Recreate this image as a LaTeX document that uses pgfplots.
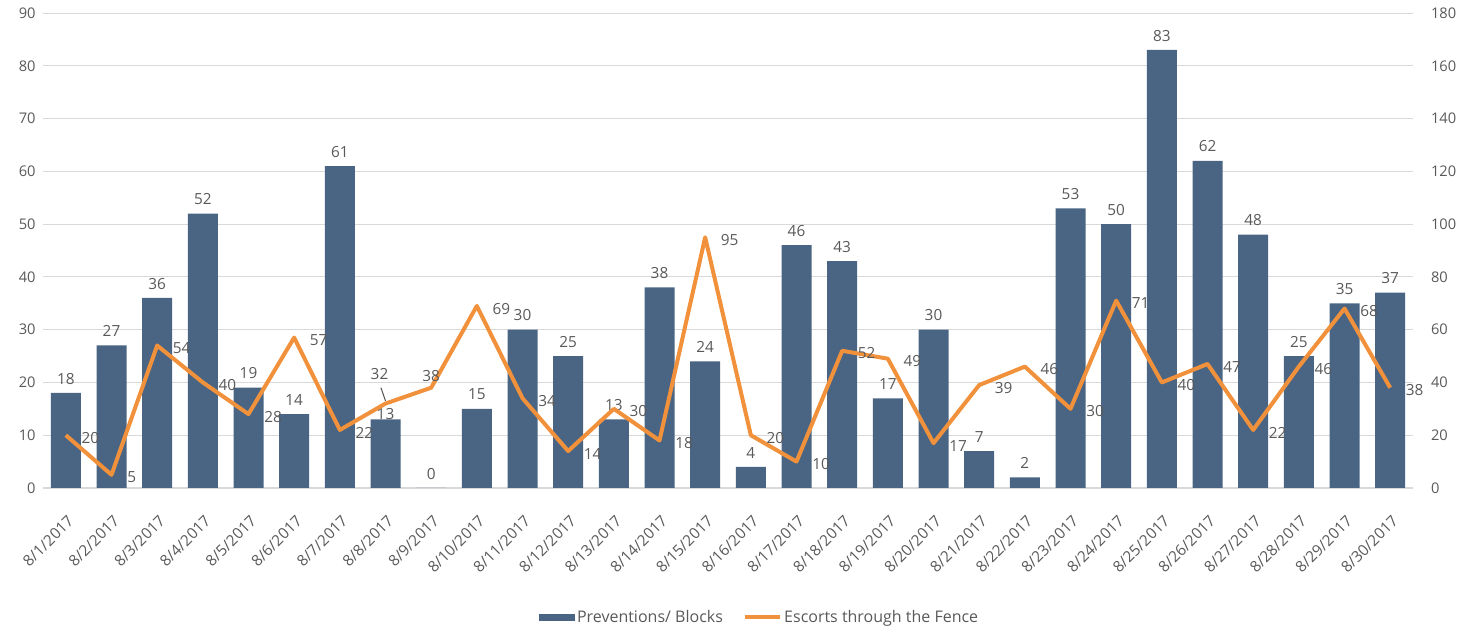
\documentclass[border=0pt]{standalone}
\usepackage{pgfplots}
\pgfplotsset{compat=1.18}
\usepackage{fontspec}
\setmainfont{Open Sans}

\definecolor{barblue}{HTML}{4A6583}
\definecolor{lineorange}{HTML}{F2913B}
\definecolor{txtgray}{HTML}{595959}
\definecolor{gridgray}{HTML}{D9D9D9}

\begin{document}
\begin{tikzpicture}[x=0.75pt,y=0.75pt]
  % shared look of both axes
  \pgfplotsset{
    every axis/.append style={
      scale only axis,
      width=1027.5pt, height=356.25pt,
      xmin=-0.5, xmax=29.5,
      ymin=0,
      font=\fontsize{11}{13}\selectfont,
      tick label style={text=txtgray},
      /pgf/number format/assume math mode=true,
      major tick length=0pt,
    },
  }
  \begin{axis}[
      name=ax,
      ymax=90, ytick={0,10,...,90},
      axis y line*=left, axis x line*=bottom,
      y axis line style={draw=none},
      x axis line style={draw=gridgray, line width=0.8pt},
      ymajorgrids, grid style={gridgray, line width=0.6pt},
      xtick={0,...,29},
      xticklabels={8/1/2017,8/2/2017,8/3/2017,8/4/2017,8/5/2017,8/6/2017,
        8/7/2017,8/8/2017,8/9/2017,8/10/2017,8/11/2017,8/12/2017,8/13/2017,
        8/14/2017,8/15/2017,8/16/2017,8/17/2017,8/18/2017,8/19/2017,8/20/2017,
        8/21/2017,8/22/2017,8/23/2017,8/24/2017,8/25/2017,8/26/2017,8/27/2017,
        8/28/2017,8/29/2017,8/30/2017},
      x tick label style={rotate=45, anchor=north east, font=\fontsize{11.5}{13}\selectfont,
        xshift=-10pt, yshift=-11pt},
      y tick label style={xshift=-2pt},
      ybar, bar width=22.5pt,
      nodes near coords,
      nodes near coords style={text=txtgray, font=\fontsize{11.5}{13}\selectfont, yshift=3pt},
    ]
    \addplot[draw=none, fill=barblue,
      % 8/8: the label sits lower, just over the bar top
      coordinate style/.condition={\coordindex==7}{yshift=-7pt}]
      coordinates {
      (0,18) (1,27) (2,36) (3,52) (4,19) (5,14) (6,61) (7,13) (8,0) (9,15)
      (10,30) (11,25) (12,13) (13,38) (14,24) (15,4) (16,46) (17,43) (18,17) (19,30)
      (20,7) (21,2) (22,53) (23,50) (24,83) (25,62) (26,48) (27,25) (28,35) (29,37)};
  \end{axis}
  \begin{axis}[
      name=ax2,
      ymax=180, ytick={0,20,...,180},
      axis y line*=right, axis x line=none,
      y axis line style={draw=none},
      y tick label style={xshift=10pt},
      xtick=\empty,
      legend style={at={(0.5,-0.245)}, anchor=north, xshift=24pt, draw=none, fill=none,
        legend columns=-1, text=txtgray, font=\fontsize{12}{14}\selectfont,
        /tikz/every even column/.append style={column sep=13pt},
        nodes={inner xsep=2pt}},
    ]
    \addlegendimage{legend image code/.code={
        \fill[barblue] (0pt,-2.25pt) rectangle (26pt,2.25pt);}}
    \addlegendentry{Preventions/ Blocks}
    \addplot[lineorange, line width=3pt, line join=round,
      legend image code/.code={\draw[lineorange, line width=3pt] (0pt,0pt) -- (26pt,0pt);},
      nodes near coords,
      nodes near coords style={text=txtgray, font=\fontsize{11.5}{13}\selectfont},
      % labels right of the point, except 8/8 and 8/9, which sit above it
      coordinate style/.condition={\coordindex<7 || \coordindex>8}{anchor=west, xshift=7pt, yshift=-2pt},
      coordinate style/.condition={\coordindex==7}{anchor=south, xshift=-4.5pt, yshift=13pt},
      coordinate style/.condition={\coordindex==8}{anchor=south, yshift=0pt}]
      coordinates {
      (0,20) (1,5) (2,54) (3,40) (4,28) (5,57) (6,22) (7,32) (8,38) (9,69)
      (10,34) (11,14) (12,30) (13,18) (14,95) (15,20) (16,10) (17,52) (18,49) (19,17)
      (20,39) (21,46) (22,30) (23,71) (24,40) (25,47) (26,22) (27,46) (28,68) (29,38)};
    \addlegendentry{Escorts through the Fence}
    % leader line of the 8/8 label
    \draw[txtgray, line width=0.8pt] (axis cs:6.9,38) -- (axis cs:7.0,33);
  \end{axis}
  \pgfresetboundingbox
  \path (ax.south west) ++(-43,-138) rectangle ([shift={(62,13)}]ax.north east);
\end{tikzpicture}
\end{document}
